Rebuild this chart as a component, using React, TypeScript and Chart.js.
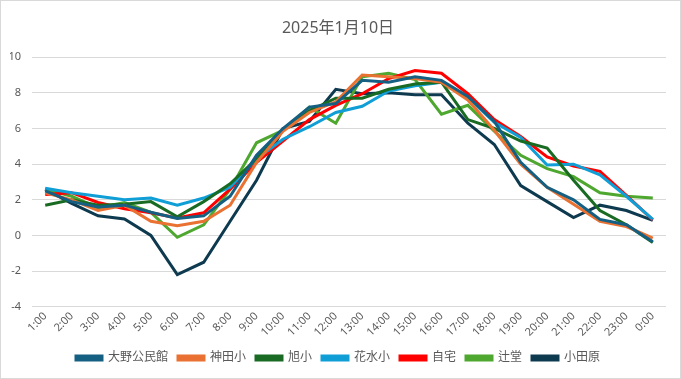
import React, { useEffect, useRef } from "react";
import { Chart, registerables } from "chart.js";

Chart.register(...registerables);

const hours = ["1:00","2:00","3:00","4:00","5:00","6:00","7:00","8:00","9:00","10:00","11:00","12:00","13:00","14:00","15:00","16:00","17:00","18:00","19:00","20:00","21:00","22:00","23:00","0:00"];

const ohno = [2.5, 1.9, 1.6, 1.7, 1.3, 0.95, 1.1, 2.2, 4.5, 6.0, 7.2, 7.4, 8.7, 8.6, 8.9, 8.7, 7.8, 6.4, 4.1, 2.7, 2.0, 0.9, 0.6, -0.35];
const kanda = [2.4, 2.0, 1.4, 1.7, 0.8, 0.55, 0.8, 1.7, 4.1, 5.85, 6.9, 7.5, 9.0, 8.9, 8.8, 8.6, 7.6, 5.9, 4.0, 2.7, 1.75, 0.8, 0.5, -0.15];
const asahi = [1.7, 2.0, 1.7, 1.75, 1.9, 1.05, 1.9, 2.9, 4.3, 5.9, 7.0, 7.7, 7.7, 8.2, 8.5, 8.6, 6.5, 6.0, 5.3, 4.9, 3.1, 1.4, 0.6, -0.4];
const hanamizu = [2.65, 2.4, 2.2, 2.0, 2.1, 1.7, 2.1, 2.7, 4.3, 5.4, 6.1, 6.9, 7.25, 8.1, 8.4, 8.6, 7.75, 6.35, 5.5, 3.95, 4.0, 3.4, 2.2, 0.9];
const jitaku = [2.3, 2.4, 1.85, 1.5, 1.27, 0.98, 1.27, 2.6, 4.1, 5.3, 6.5, 7.3, 7.95, 8.8, 9.25, 9.1, 7.95, 6.5, 5.55, 4.4, 3.9, 3.6, 2.25, 0.88];
const tsujido = [2.6, 2.2, 1.55, 1.85, 1.3, -0.1, 0.6, 2.6, 5.2, 5.9, 7.2, 6.3, 8.9, 9.1, 8.75, 6.8, 7.3, 5.85, 4.5, 3.75, 3.3, 2.4, 2.2, 2.1];
const odawara = [2.6, 1.8, 1.1, 0.93, 0.0, -2.2, -1.5, 0.8, 3.1, 6.0, 6.4, 8.2, 7.95, 8.0, 7.9, 7.9, 6.3, 5.1, 2.8, 1.9, 1.0, 1.7, 1.4, 0.85];

const seriesNames = ["大野公民館", "神田小", "旭小", "花水小", "自宅", "辻堂", "小田原"];
const seriesValues = [ohno, kanda, asahi, hanamizu, jitaku, tsujido, odawara];
const seriesColors = ["#156082", "#E97132", "#196B24", "#0F9ED5", "#FF0000", "#4EA72E", "#0E3A50"];

const titleText = "2025年1月10日";
const yMin = -4;
const yMax = 10;
const yStep = 2;

const FONT = "'Noto Sans', 'Noto Sans CJK JP', sans-serif";

export default function App() {
  const ref = useRef<HTMLCanvasElement | null>(null);

  useEffect(() => {
    document.body.style.margin = "0";
    const canvas = ref.current;
    if (!canvas) return;
    const chart = new Chart(canvas, {
      type: "line",
      data: {
        labels: hours,
        datasets: seriesNames.map((name, i) => ({
          label: name,
          data: seriesValues[i],
          borderColor: seriesColors[i],
          backgroundColor: seriesColors[i],
          borderWidth: 3,
          pointRadius: 0,
          tension: 0,
          fill: false,
        })),
      },
      options: {
        responsive: false,
        animation: false,
        maintainAspectRatio: false,
        layout: { padding: { top: 18, left: 9, right: 14, bottom: 4 } },
        plugins: {
          title: {
            display: true,
            text: titleText,
            color: "#595959",
            font: { family: FONT, size: 16, weight: "normal" },
            padding: { top: 0, bottom: 19 },
          },
          legend: {
            position: "bottom",
            labels: {
              color: "#595959",
              font: { family: FONT, size: 12 },
              boxWidth: 26,
              boxHeight: 4,
              padding: 10,
            },
          },
          tooltip: { enabled: false },
        },
        scales: {
          x: {
            offset: true,
            grid: { display: false, drawTicks: false },
            border: { display: false },
            afterFit: (scale: any) => {
              scale.paddingLeft = 0;
              scale.paddingRight = 0;
            },
            ticks: {
              color: "#595959",
              font: { family: FONT, size: 11 },
              minRotation: 45,
              maxRotation: 45,
              autoSkip: false,
              padding: 3,
            },
          },
          y: {
            min: yMin,
            max: yMax,
            grid: { color: "#d9d9d9", drawTicks: false, lineWidth: 1 },
            border: { display: false },
            afterFit: (scale: any) => {
              scale.width = 22;
            },
            ticks: {
              stepSize: yStep,
              color: "#595959",
              font: { family: FONT, size: 11 },
              padding: 11,
            },
          },
        },
      },
    });
    return () => chart.destroy();
  }, []);

  return (
    <div style={{ width: 681, height: 379, boxSizing: "border-box", border: "1px solid #d9d9d9", background: "#fff" }}>
      <canvas ref={ref} width={679} height={377} style={{ display: "block" }} />
    </div>
  );
}
